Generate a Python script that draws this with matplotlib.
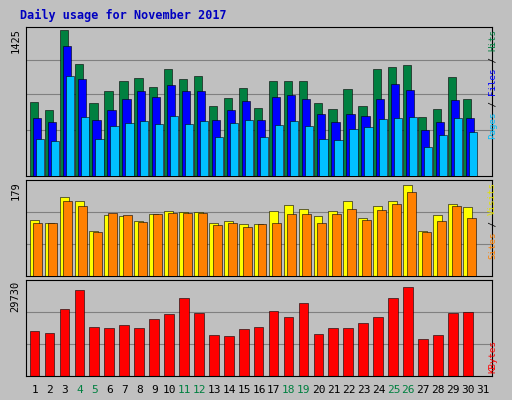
import matplotlib
matplotlib.use("Agg")
import matplotlib.pyplot as plt
import numpy as np

days = list(range(1, 32))
hits = [717,648,1425,1096,708,827,927,957,867,1046,947,977,678,757,857,668,927,927,927,708,658,847,678,1046,1066,1086,578,658,967,747]
files = [568,528,1266,947,548,648,747,827,767,887,827,827,548,648,727,548,767,787,747,608,528,608,588,747,897,837,448,528,737,568]
pages = [359,339,977,578,359,488,518,538,508,588,508,538,379,518,548,379,498,538,488,359,349,458,478,558,568,578,279,399,568,428]
visits = [109,103,155,147,88,119,117,107,121,127,125,125,103,107,101,101,127,139,131,117,127,147,113,137,147,179,88,119,141,135]
sites = [103,103,147,137,86,123,119,105,121,123,123,123,99,103,95,101,103,121,121,103,121,131,109,129,141,165,86,107,137,113]
kbytes = [15211,14519,22470,28693,16248,15902,16939,15902,19013,20742,25927,21087,13828,13482,15556,16248,21779,19705,24545,14174,15902,15902,17630,19705,25927,29730,12445,13828,21087,21433]
weekend = [4,5,11,12,18,19,25,26]

BG = "#C0C0C0"
fig = plt.figure(figsize=(5.12, 4.0), dpi=100, facecolor=BG)
W, H = 512, 400
def ax_at(x0, y0, x1, y1):
    a = fig.add_axes([x0/W, 1-y1/H, (x1-x0)/W, (y1-y0)/H])
    a.set_facecolor(BG)
    for s in a.spines.values():
        s.set_color("#000000"); s.set_linewidth(0.8)
    a.set_xticks([]); a.set_yticks([])
    a.set_xlim(0.4, 31.6)
    return a

mono = "DejaVu Sans Mono"
fig.text(20/W, 1-15/H, "Daily usage for November 2017", color="#0000C0",
         fontsize=8.5, fontweight="bold", family=mono, va="center")

n = len(hits)
x = np.arange(1, n+1)

a1 = ax_at(26, 27, 492, 176)
a1.set_ylim(0, max(hits)*1.02)
for f in (0.31, 0.55, 0.78):
    a1.axhline(max(hits)*f*1.02, color="#808080", lw=0.8, zorder=0)
a1.bar(x-0.35, hits, width=0.55, align="edge", color="#008040", edgecolor="black", lw=0.4, zorder=2)
a1.bar(x-0.15, files, width=0.55, align="edge", color="#0000FF", edgecolor="black", lw=0.4, zorder=3)
a1.bar(x+0.05, pages, width=0.55, align="edge", color="#00C0FF", edgecolor="black", lw=0.4, zorder=4)

a2 = ax_at(26, 180, 492, 276)
a2.set_ylim(0, max(visits)*1.05)
for f in (0.33, 0.67):
    a2.axhline(max(visits)*1.05*f, color="#808080", lw=0.8, zorder=0)
a2.bar(x-0.35, visits, width=0.6, align="edge", color="#FFFF00", edgecolor="black", lw=0.4, zorder=2)
a2.bar(x-0.1, sites, width=0.6, align="edge", color="#FF8000", edgecolor="black", lw=0.4, zorder=3)

a3 = ax_at(26, 280, 492, 376)
a3.set_ylim(0, max(kbytes)*1.08)
for f in (0.33, 0.67):
    a3.axhline(max(kbytes)*1.08*f, color="#808080", lw=0.8, zorder=0)
a3.bar(x-0.35, kbytes, width=0.65, align="edge", color="#FF0000", edgecolor="black", lw=0.4, zorder=2)

for d in days:
    c = "#008040" if d in weekend else "black"
    a3.text(d, -0.09, str(d), transform=a3.get_xaxis_transform(), ha="center", va="top",
            fontsize=8, family=mono, color=c)

for a, lab in ((a1, "1425"), (a2, "179"), (a3, "29730")):
    a.text(-0.012, 0.99, lab, transform=a.transAxes, rotation=90, ha="right", va="top",
           fontsize=7.5, family=mono)

FS = 6.6
CW = FS * 0.602 * 100 / 72  # px per char
def vlabel(a, parts, top_px):
    # text reads bottom-to-top; place from top downward in reverse order
    total = sum(len(s) for s, _ in parts) * CW
    y = top_px + total  # bottom pixel
    for s, c in parts:
        fig.text(497/W, 1 - y/H, s, rotation=90, ha="left", va="bottom",
                 fontsize=FS, family=mono, color=c, rotation_mode="anchor")
        y -= len(s) * CW
vlabel(a1, [("Pages", "#00C0FF"), (" / ", "black"), ("Files", "#0000FF"), (" / ", "black"), ("Hits", "#008040")], 29)
vlabel(a2, [("Sites", "#FF8000"), (" / ", "black"), ("Visits", "#E0E000")], 182)
vlabel(a3, [("KBytes", "#FF0000")], 340)

fig.savefig("out.png", dpi=100, facecolor=BG)
